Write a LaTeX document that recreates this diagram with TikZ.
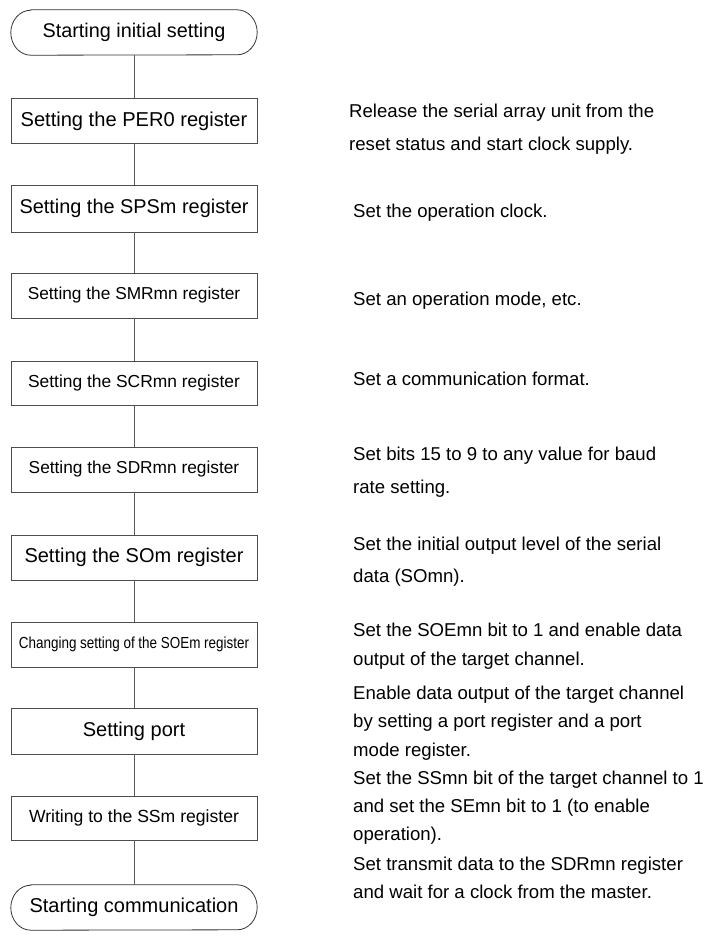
\documentclass[tikz,border=0pt]{standalone}
\usepackage{fontspec}
\setmainfont{Liberation Sans}
\begin{document}
\begin{tikzpicture}[
  stepbox/.style={draw=black!70, line width=0.8pt, minimum width=246pt, minimum height=45pt, inner sep=0pt, anchor=center},
  termnode/.style={minimum width=246pt, minimum height=45pt, inner sep=0pt, anchor=center},
  termline/.style={draw=black!80, line width=0.8pt},
  conn/.style={draw=black!65, line width=1pt},
  desc/.style={anchor=base west, inner sep=0pt, font=\fontsize{18.6pt}{22pt}\selectfont}
]
\useasboundingbox (0,0) rectangle (706pt,-937pt);

% terminators
\node[termnode, font=\fontsize{19.8pt}{24pt}\selectfont] (start) at (134pt,-32.5pt) {Starting initial setting};
\node[termnode, font=\fontsize{20pt}{24pt}\selectfont] (stop) at (134pt,-907.5pt) {Starting communication};
\foreach \t in {start,stop}{
  \draw[termline] ([xshift=20pt]\t.north west) -- ([xshift=-20pt]\t.north east)
    arc[start angle=90, end angle=-90, x radius=20pt, y radius=22.5pt]
    -- ([xshift=20pt]\t.south west)
    arc[start angle=270, end angle=90, x radius=20pt, y radius=22.5pt] -- cycle;
}

% steps
\node[stepbox, font=\fontsize{20.1pt}{24pt}\selectfont] (per) at (134pt,-121pt) {Setting the PER0 register};
\node[stepbox, minimum height=47pt, font=\fontsize{19.9pt}{24pt}\selectfont] (sps) at (134pt,-208.5pt) {Setting the SPSm register};
\node[stepbox, font=\fontsize{17.3pt}{21pt}\selectfont] (smr) at (134pt,-295.5pt) {Setting the SMRmn register};
\node[stepbox, minimum height=44pt, font=\fontsize{17.4pt}{21pt}\selectfont] (scr) at (134pt,-383pt) {Setting the SCRmn register};
\node[stepbox, font=\fontsize{17.3pt}{21pt}\selectfont] (sdr) at (134pt,-469.5pt) {Setting the SDRmn register};
\node[stepbox, font=\fontsize{20pt}{24pt}\selectfont] (som) at (134pt,-557.5pt) {Setting the SOm register};
\node[stepbox, font=\fontsize{16pt}{20pt}\selectfont] (soe) at (134pt,-644.5pt) {\scalebox{0.84}[1]{Changing setting of the SOEm register}};
\node[stepbox, minimum height=46pt, font=\fontsize{20pt}{24pt}\selectfont] (port) at (134pt,-731pt) {Setting port};
\node[stepbox, minimum height=44pt, font=\fontsize{17.6pt}{21pt}\selectfont] (ssm) at (134pt,-818pt) {Writing to the SSm register};

% connectors
\draw[conn] (start) -- (per);
\draw[conn] (per) -- (sps);
\draw[conn] (sps) -- (smr);
\draw[conn] (smr) -- (scr);
\draw[conn] (scr) -- (sdr);
\draw[conn] (sdr) -- (som);
\draw[conn] (som) -- (soe);
\draw[conn] (soe) -- (port);
\draw[conn] (port) -- (ssm);
\draw[conn] (ssm) -- (stop);

% descriptions
\node[desc] (d1) at (349pt,-117pt) {\vtop{\baselineskip=33pt\hbox{Release the serial array unit from the}\hbox{reset status and start clock supply.}}};
\node[desc] (d2) at (353pt,-217pt) {Set the operation clock.};
\node[desc] (d3) at (353pt,-305pt) {Set an operation mode, etc.};
\node[desc] (d4) at (353pt,-385pt) {Set a communication format.};
\node[desc] (d5) at (353pt,-460pt) {\vtop{\baselineskip=33pt\hbox{Set bits 15 to 9 to any value for baud}\hbox{rate setting.}}};
\node[desc] (d6) at (353pt,-550pt) {\vtop{\baselineskip=32pt\hbox{Set the initial output level of the serial}\hbox{data (SOmn).}}};
\node[desc] (d7) at (353pt,-636pt) {\vtop{\baselineskip=29pt\hbox{Set the SOEmn bit to 1 and enable data}\hbox{output of the target channel.}}};
\node[desc] (d8) at (353pt,-699pt) {\vtop{\baselineskip=28.5pt\hbox{Enable data output of the target channel}\hbox{by setting a port register and a port}\hbox{mode register.}}};
\node[desc] (d9) at (353pt,-784pt) {\vtop{\baselineskip=28pt\hbox{Set the SSmn bit of the target channel to 1}\hbox{and set the SEmn bit to 1 (to enable}\hbox{operation).}}};
\node[desc] (d10) at (353pt,-870pt) {\vtop{\baselineskip=28pt\hbox{Set transmit data to the SDRmn register}\hbox{and wait for a clock from the master.}}};
\end{tikzpicture}
\end{document}
